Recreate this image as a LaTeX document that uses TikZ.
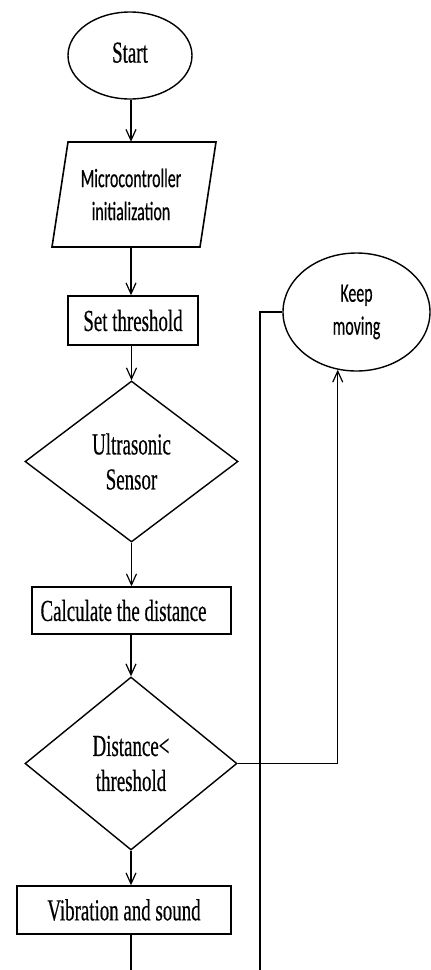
\documentclass[tikz,border=0pt]{standalone}
\usepackage{fontspec}
\usetikzlibrary{shapes.geometric,arrows.meta,calc}
\newfontfamily\serifc[FakeStretch=0.62,FakeBold=0.4]{Liberation Serif}
\newfontfamily\sansc[FakeStretch=0.6,FakeBold=0.3]{Carlito}
\begin{document}
\begin{tikzpicture}[x=1pt,y=-1pt,
  shp/.style={draw, line width=1.5pt, inner sep=0pt, align=center},
  sertxt/.style={font=\serifc\fontsize{30.5}{35}\selectfont},
  santxt/.style={font=\sansc\fontsize{26.5}{33}\selectfont},
  boxs/.style={shp, rectangle, sertxt},
  dia/.style={shp, diamond, sertxt, line width=1.4pt},
  ell/.style={shp, ellipse, line width=1.4pt},
  arr/.style={line width=1.2pt, -{Straight Barb[length=11pt,width=10pt,line width=1.2pt]}},
  ln/.style={line width=1.2pt}]
\useasboundingbox (0,0) rectangle (431,970);
\fill[white] (0,0) rectangle (431,970);

\node[ell, sertxt, minimum width=124pt, minimum height=87pt] (start) at (130,55.5) {\raisebox{6pt}{Start}};
\node[inner sep=0pt, minimum width=130pt, minimum height=105pt, santxt, align=center] (micro) at (131,194.5) {Microcontroller\\initialization};
\draw[line width=1.6pt] (68,142) -- (216,142) -- (200,247) -- (52,247) -- cycle;
\node[boxs, minimum width=130pt, minimum height=49pt] (set) at (133,320.5) {Set threshold};
\node[dia, minimum width=213pt, minimum height=161pt] (ultra) at (131.5,461.5) {Ultrasonic\\Sensor};
\node[boxs, minimum width=199pt, minimum height=47pt] (calc) at (131.5,610.5) {\hspace*{-16pt}Calculate the distance};
\node[dia, minimum width=212pt, minimum height=173pt] (dist) at (131,763.5) {Distance<\\threshold};
\node[boxs, minimum width=214pt, minimum height=48pt] (vib) at (124,910) {Vibration and sound};
\node[ell, santxt, minimum width=147pt, minimum height=118pt] (keep) at (356.5,312) {Keep\\moving};
\coordinate (endA) at (131,972);
\coordinate (endB) at (260,972);

\draw[arr] (start.south -| micro.north) -- (micro.north);
\draw[arr] (micro.south) -- (micro.south |- set.north);
\draw[arr] (ultra.north |- set.south) -- (ultra.north);
\draw[arr] (ultra.south) -- (ultra.south |- calc.north);
\draw[arr] (dist.north |- calc.south) -- (dist.north);
\draw[arr] (dist.south) -- (dist.south |- vib.north);
\draw[ln] (endA |- vib.south) -- (endA);
\draw[arr] (dist.east) -| (keep.252);
\draw[ln] (keep.west) -- (keep.west -| endB) -- (endB);
\end{tikzpicture}
\end{document}
